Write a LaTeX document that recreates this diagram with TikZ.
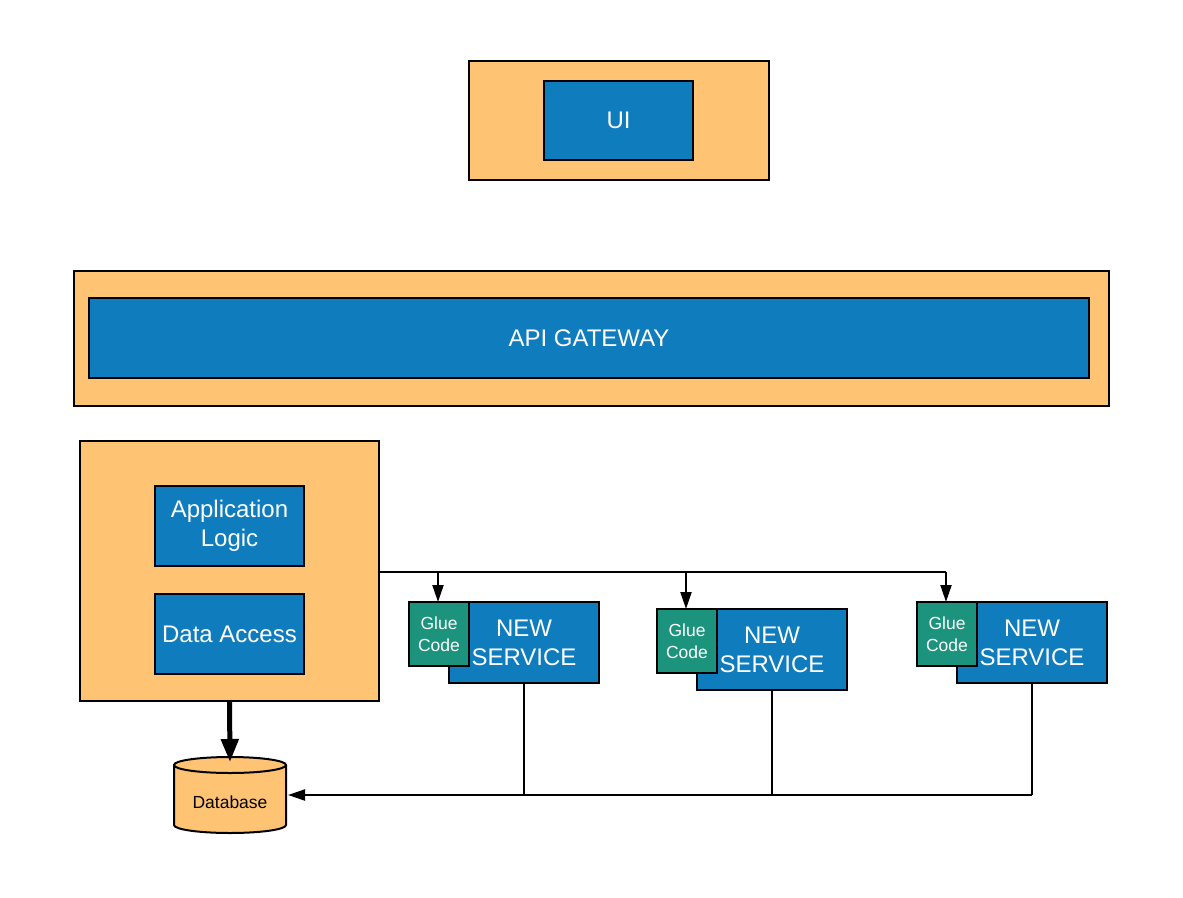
\documentclass[tikz,border=0pt]{standalone}
\usepackage{fontspec}
\setmainfont{Liberation Sans}
\usetikzlibrary{arrows.meta}
\definecolor{orng}{HTML}{FFC374}
\definecolor{blu}{HTML}{0F7CBE}
\definecolor{grn}{HTML}{1C937C}
\tikzset{
  outer/.style={draw=black, line width=2pt, fill=orng, inner sep=0pt, outer sep=0pt},
  inner/.style={draw=black, line width=2pt, fill=blu, text=white, inner sep=0pt, outer sep=0pt, align=center, font=\fontsize{24}{29}\selectfont},
  glue/.style={draw=black, line width=2pt, fill=grn, text=white, inner sep=0pt, outer sep=0pt, align=center, font=\fontsize{17.5}{22}\selectfont},
  conn/.style={draw=black, line width=2pt},
  arr/.style={conn, -{Triangle[length=17pt,width=11pt]}},
  thick arr/.style={draw=black, line width=5pt, -{Triangle[length=23pt,width=17pt]}},
}
\begin{document}
\begin{tikzpicture}[x=1pt,y=-1pt]
\useasboundingbox (0,0) rectangle (1183,897);
% UI
\node[outer, minimum width=300pt, minimum height=119pt] (uio) at (619,120.5) {};
\node[inner, minimum width=149pt, minimum height=79pt] (ui) at (618.5,120.5) {UI};
% API
\node[outer, minimum width=1035pt, minimum height=135pt] (apio) at (591.5,338.5) {};
\node[inner, minimum width=1000pt, minimum height=80pt] (api) at (589,338) {API GATEWAY};
% App
\node[outer, minimum width=299pt, minimum height=260pt] (app) at (229.5,571) {};
\node[inner, minimum width=149pt, minimum height=80pt] (logic) at (229.5,526) {Application\\Logic};
\node[inner, minimum width=149pt, minimum height=80pt] (da) at (229.5,634) {Data Access};
% Services
\node[inner, minimum width=150pt, minimum height=81pt] (s1) at (524,642.5) {NEW\\SERVICE};
\node[glue, minimum width=60pt, minimum height=64pt] (g1) at (439,634) {Glue\\Code};
\node[inner, minimum width=150pt, minimum height=81pt] (s2) at (772,649.5) {NEW\\SERVICE};
\node[glue, minimum width=60pt, minimum height=64pt] (g2) at (687,641) {Glue\\Code};
\node[inner, minimum width=150pt, minimum height=81pt] (s3) at (1032,642.5) {NEW\\SERVICE};
\node[glue, minimum width=60pt, minimum height=64pt] (g3) at (947,634) {Glue\\Code};
% Database
\fill[orng] (174,765) -- (174,825) arc[start angle=180,end angle=0,x radius=56,y radius=8] -- (286,765) arc[start angle=0,end angle=-180,x radius=56,y radius=8] -- cycle;
\draw[line width=2pt] (174,765) -- (174,825) arc[start angle=180,end angle=0,x radius=56,y radius=8] -- (286,765);
\draw[line width=2pt] (230,765) ellipse[x radius=56,y radius=8];
\node[inner sep=0pt, outer sep=0pt, minimum width=112pt, minimum height=76pt] (db) at (230,795) {};
\node[font=\fontsize{17.5}{21}\selectfont] (dbl) at (230,802) {Database};
% Connectors
\coordinate (j1) at (438,572);
\coordinate (j2) at (686,572);
\coordinate (j3) at (946,572);
\draw[conn] (app.east |- j1) -- (j3);
\draw[arr] (j1) -- (g1.north -| j1);
\draw[arr] (j2) -- (g2.north -| j2);
\draw[arr] (j3) -- (g3.north -| j3);
\draw[thick arr] (app.south) -- ([yshift=-5pt]db.north);
\coordinate (b3) at (1032,795);
\coordinate (b2) at (772,795);
\coordinate (b1) at (524,795);
\draw[conn] (s1.south) -- (b1);
\draw[conn] (s2.south) -- (b2);
\draw[conn] (s3.south) -- (b3);
\draw[arr] (b3) -- ([xshift=2pt]db.east);
\end{tikzpicture}
\end{document}
